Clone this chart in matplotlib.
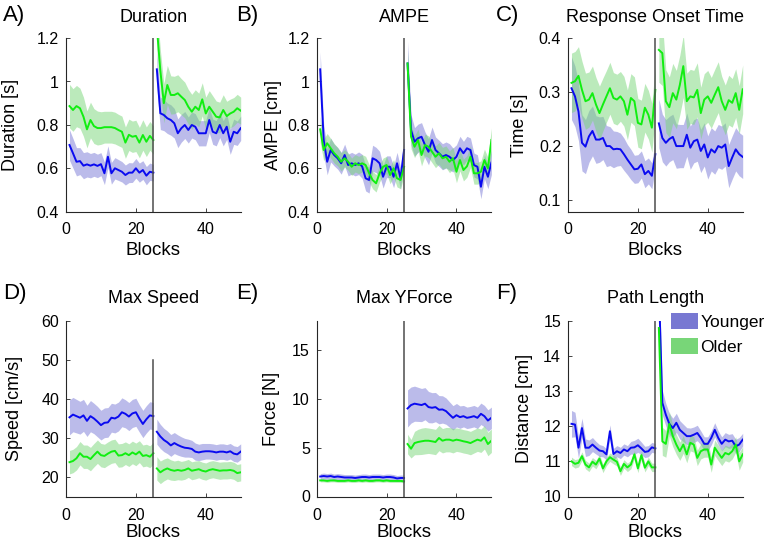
import matplotlib
matplotlib.use("Agg")
import matplotlib.pyplot as plt
from matplotlib.patches import Patch
from matplotlib.ticker import FuncFormatter

plt.rcParams['font.family'] = ['Liberation Sans', 'DejaVu Sans']

blocks = list(range(1, 51))

# A) Duration [s]
dur_young = [0.708, 0.670, 0.631, 0.634, 0.613, 0.619, 0.613, 0.619, 0.612, 0.620, 0.578, 0.654, 0.578, 0.601, 0.593,
             0.585, 0.570, 0.581, 0.581, 0.601, 0.581, 0.593, 0.567, 0.585, 0.581,
             1.056, 0.854, 0.846, 0.831, 0.823, 0.808, 0.762, 0.785, 0.800, 0.777, 0.800, 0.792, 0.762, 0.762, 0.762,
             0.823, 0.769, 0.762, 0.800, 0.762, 0.792, 0.723, 0.769, 0.762, 0.785]
dur_old = [0.887, 0.869, 0.887, 0.877, 0.838, 0.780, 0.823, 0.795, 0.786, 0.786, 0.790, 0.790, 0.790, 0.786, 0.777,
           0.769, 0.719, 0.755, 0.746, 0.750, 0.719, 0.754, 0.723, 0.750, 0.731,
           1.250, 1.050, 0.900, 0.984, 0.938, 0.938, 0.946, 0.930, 0.915, 0.884, 0.861, 0.884, 0.869, 0.918, 0.853,
           0.884, 0.861, 0.838, 0.835, 0.869, 0.841, 0.853, 0.861, 0.877, 0.866]
dur_young_err = [0.070, 0.068, 0.065, 0.062, 0.060, 0.058, 0.056, 0.055, 0.054, 0.053, 0.052, 0.050, 0.050, 0.049, 0.048,
                 0.047, 0.046, 0.046, 0.045, 0.045, 0.044, 0.043, 0.042, 0.040, 0.038,
                 0.080, 0.075, 0.072, 0.070, 0.070, 0.068, 0.066, 0.064, 0.062, 0.060, 0.060, 0.060, 0.058, 0.058, 0.058,
                 0.058, 0.058, 0.058, 0.058, 0.058, 0.058, 0.058, 0.058, 0.056, 0.056]
dur_old_err = [0.100, 0.098, 0.095, 0.092, 0.090, 0.085, 0.082, 0.080, 0.078, 0.075, 0.073, 0.073, 0.073, 0.073, 0.072,
               0.072, 0.072, 0.072, 0.072, 0.072, 0.070, 0.070, 0.068, 0.066, 0.065,
               0.100, 0.095, 0.090, 0.090, 0.088, 0.086, 0.085, 0.083, 0.082, 0.080, 0.080, 0.078, 0.077, 0.076, 0.075,
               0.074, 0.073, 0.072, 0.070, 0.070, 0.068, 0.066, 0.065, 0.064, 0.062]

# B) AMPE [cm]
ampe_young = [1.056, 0.731, 0.631, 0.685, 0.662, 0.647, 0.624, 0.662, 0.616, 0.624, 0.616, 0.624, 0.610, 0.555, 0.547,
              0.647, 0.639, 0.624, 0.562, 0.608, 0.608, 0.562, 0.624, 0.555, 0.685,
              1.083, 0.777, 0.723, 0.739, 0.746, 0.708, 0.677, 0.731, 0.685, 0.670, 0.654, 0.662, 0.654, 0.639, 0.654,
              0.693, 0.670, 0.693, 0.685, 0.616, 0.608, 0.516, 0.608, 0.562, 0.627]
ampe_old = [0.780, 0.685, 0.716, 0.693, 0.670, 0.654, 0.631, 0.647, 0.631, 0.608, 0.624, 0.616, 0.624, 0.616, 0.578,
            0.547, 0.532, 0.578, 0.608, 0.616, 0.570, 0.601, 0.555, 0.547, 0.608,
            1.083, 0.746, 0.700, 0.731, 0.662, 0.708, 0.700, 0.677, 0.654, 0.670, 0.647, 0.654, 0.631, 0.647, 0.585,
            0.639, 0.593, 0.610, 0.654, 0.578, 0.578, 0.585, 0.639, 0.601, 0.731]
ampe_young_err = [0.080, 0.070, 0.060, 0.055, 0.050, 0.050, 0.050, 0.050, 0.050, 0.050, 0.050, 0.052, 0.055, 0.058, 0.060,
                  0.060, 0.058, 0.055, 0.052, 0.050, 0.050, 0.050, 0.050, 0.050, 0.050,
                  0.100, 0.070, 0.065, 0.065, 0.065, 0.060, 0.060, 0.060, 0.060, 0.060, 0.060, 0.060, 0.060, 0.055, 0.055,
                  0.055, 0.055, 0.055, 0.055, 0.055, 0.055, 0.055, 0.055, 0.055, 0.055]
ampe_old_err = [0.060, 0.050, 0.045, 0.045, 0.045, 0.042, 0.042, 0.040, 0.040, 0.040, 0.040, 0.040, 0.040, 0.040, 0.040,
                0.040, 0.040, 0.040, 0.040, 0.040, 0.040, 0.040, 0.040, 0.040, 0.040,
                0.060, 0.055, 0.050, 0.050, 0.050, 0.050, 0.050, 0.050, 0.050, 0.050, 0.050, 0.050, 0.050, 0.050, 0.050,
                0.050, 0.050, 0.050, 0.050, 0.050, 0.050, 0.050, 0.050, 0.050, 0.055]

# C) Response onset time [s]
rot_young = [0.307, 0.292, 0.264, 0.206, 0.199, 0.218, 0.228, 0.212, 0.212, 0.215, 0.200, 0.200, 0.194, 0.195, 0.194,
             0.185, 0.175, 0.166, 0.157, 0.158, 0.166, 0.148, 0.154, 0.145, 0.185,
             0.242, 0.215, 0.206, 0.213, 0.217, 0.200, 0.200, 0.200, 0.221, 0.197, 0.209, 0.212, 0.191, 0.203, 0.179,
             0.194, 0.188, 0.200, 0.197, 0.203, 0.163, 0.179, 0.194, 0.185, 0.180]
rot_old = [0.317, 0.320, 0.330, 0.304, 0.283, 0.286, 0.298, 0.277, 0.261, 0.277, 0.292, 0.307, 0.289, 0.286, 0.292,
           0.283, 0.258, 0.289, 0.283, 0.243, 0.240, 0.271, 0.258, 0.234, 0.304,
           0.378, 0.372, 0.283, 0.272, 0.298, 0.286, 0.313, 0.348, 0.283, 0.292, 0.290, 0.304, 0.261, 0.286, 0.292,
           0.280, 0.295, 0.309, 0.283, 0.267, 0.285, 0.280, 0.298, 0.267, 0.305]
rot_young_err = [0.058, 0.056, 0.054, 0.052, 0.050, 0.048, 0.046, 0.044, 0.042, 0.040, 0.038, 0.036, 0.034, 0.032, 0.030,
                 0.030, 0.028, 0.028, 0.026, 0.026, 0.025, 0.025, 0.024, 0.024, 0.025,
                 0.045, 0.044, 0.043, 0.042, 0.042, 0.041, 0.040, 0.040, 0.040, 0.040, 0.040, 0.040, 0.040, 0.040, 0.040,
                 0.040, 0.040, 0.040, 0.040, 0.040, 0.040, 0.040, 0.040, 0.040, 0.040]
rot_old_err = [0.055, 0.055, 0.054, 0.053, 0.052, 0.051, 0.050, 0.050, 0.050, 0.049, 0.048, 0.048, 0.047, 0.047, 0.046,
               0.046, 0.046, 0.045, 0.045, 0.045, 0.045, 0.045, 0.045, 0.045, 0.045,
               0.060, 0.060, 0.058, 0.056, 0.055, 0.054, 0.055, 0.058, 0.052, 0.050, 0.050, 0.050, 0.048, 0.048, 0.048,
               0.047, 0.047, 0.047, 0.046, 0.046, 0.046, 0.045, 0.045, 0.045, 0.045]

# D) Max speed [cm/s]
spd_young = [35.3, 36.0, 35.6, 35.2, 35.8, 34.4, 35.6, 35.0, 34.2, 33.3, 33.9, 34.0, 35.2, 35.0, 35.5,
             36.6, 36.2, 35.5, 36.3, 36.6, 35.0, 33.6, 34.8, 35.8, 35.6,
             31.6, 30.4, 29.5, 28.9, 28.1, 28.7, 28.2, 27.8, 27.5, 27.4, 27.2, 26.5, 26.3, 26.5, 26.6,
             26.6, 26.5, 26.3, 26.5, 26.5, 26.3, 26.6, 26.0, 25.8, 26.5]
spd_old = [23.8, 24.1, 24.8, 26.1, 25.2, 25.2, 24.6, 25.6, 26.5, 25.6, 25.4, 26.0, 26.5, 26.7, 25.5,
           25.6, 26.1, 25.6, 26.3, 25.8, 26.5, 25.4, 25.6, 25.2, 26.1,
           22.2, 21.2, 21.8, 22.2, 21.8, 21.6, 21.8, 21.6, 21.8, 22.2, 21.6, 21.8, 22.0, 21.6, 21.4,
           21.8, 22.0, 21.8, 21.6, 21.7, 21.7, 21.8, 21.6, 21.0, 21.2]
spd_young_err = [4.5, 4.4, 4.3, 4.2, 4.1, 4.0, 4.0, 3.9, 3.9, 3.8, 3.8, 3.8, 3.7, 3.7, 3.7,
                 3.7, 3.6, 3.6, 3.6, 3.6, 3.5, 3.5, 3.5, 3.5, 3.5,
                 3.2, 3.1, 3.0, 2.9, 2.8, 2.7, 2.6, 2.5, 2.4, 2.3, 2.2, 2.2, 2.1, 2.1, 2.0,
                 2.0, 2.0, 2.0, 2.0, 2.0, 2.0, 2.0, 2.0, 2.0, 2.0]
spd_old_err = [3.0, 3.0, 3.0, 3.0, 3.0, 3.0, 3.0, 3.0, 3.0, 3.0, 3.0, 3.0, 3.0, 3.0, 3.0,
               3.0, 2.9, 2.9, 2.9, 2.9, 2.8, 2.8, 2.8, 2.8, 2.8,
               3.0, 2.9, 2.8, 2.7, 2.6, 2.5, 2.5, 2.4, 2.4, 2.3, 2.3, 2.3, 2.2, 2.2, 2.2,
               2.2, 2.2, 2.2, 2.2, 2.2, 2.2, 2.2, 2.2, 2.2, 2.2]

# E) Max Y force [N]
frc_young = [2.05, 2.10, 2.05, 2.10, 2.00, 2.05, 2.00, 1.95, 1.95, 1.95, 1.90, 1.95, 2.00, 2.00, 1.95,
             2.00, 2.00, 2.00, 1.95, 2.00, 2.00, 1.95, 1.85, 1.90, 1.90,
             9.03, 9.38, 9.52, 9.45, 9.38, 9.52, 9.17, 9.10, 9.17, 8.90, 8.93, 8.76, 8.41, 8.07, 8.34,
             8.14, 8.24, 8.07, 8.14, 8.24, 8.07, 8.48, 8.24, 7.79, 8.07]
frc_old = [1.65, 1.65, 1.60, 1.65, 1.65, 1.60, 1.60, 1.60, 1.65, 1.60, 1.60, 1.65, 1.60, 1.65, 1.60,
           1.60, 1.65, 1.65, 1.60, 1.65, 1.60, 1.60, 1.60, 1.60, 1.55,
           5.38, 4.90, 5.48, 5.59, 5.66, 5.72, 5.72, 5.66, 5.59, 6.00, 5.72, 5.83, 5.83, 5.72, 5.83,
           5.76, 5.66, 5.59, 5.48, 5.66, 5.83, 5.72, 6.07, 5.38, 5.72]
frc_young_err = [0.30, 0.30, 0.30, 0.30, 0.30, 0.30, 0.30, 0.30, 0.30, 0.30, 0.30, 0.30, 0.30, 0.30, 0.30,
                 0.30, 0.30, 0.30, 0.30, 0.30, 0.30, 0.30, 0.30, 0.30, 0.30,
                 1.90, 1.85, 1.80, 1.75, 1.70, 1.65, 1.60, 1.55, 1.50, 1.45, 1.40, 1.35, 1.30, 1.25, 1.20,
                 1.15, 1.10, 1.10, 1.10, 1.10, 1.10, 1.10, 1.10, 1.10, 1.10]
frc_old_err = [0.15, 0.15, 0.15, 0.15, 0.15, 0.15, 0.15, 0.15, 0.15, 0.15, 0.15, 0.15, 0.15, 0.15, 0.15,
               0.15, 0.15, 0.15, 0.15, 0.15, 0.15, 0.15, 0.15, 0.15, 0.15,
               1.00, 0.95, 1.20, 1.30, 1.35, 1.35, 1.30, 1.30, 1.30, 1.30, 1.25, 1.25, 1.25, 1.25, 1.20,
               1.20, 1.20, 1.20, 1.20, 1.20, 1.20, 1.20, 1.20, 1.20, 1.20]

# F) Path length [cm]
path_young = [12.07, 12.05, 11.39, 11.95, 11.39, 11.39, 11.48, 11.39, 11.31, 11.29, 11.20, 11.86, 11.21, 11.29, 11.24,
              11.34, 11.29, 11.39, 11.40, 11.46, 11.37, 11.27, 11.29, 11.40, 11.37,
              16.00, 12.67, 12.33, 12.07, 11.95, 12.10, 11.90, 11.81, 11.72, 11.72, 11.76, 11.81, 11.67, 11.50, 11.50,
              11.67, 11.90, 11.67, 11.50, 11.62, 11.57, 11.59, 11.43, 11.48, 11.62]
path_old = [11.00, 10.93, 10.96, 11.15, 10.91, 10.83, 10.99, 10.91, 11.08, 10.80, 11.00, 11.12, 11.05, 10.99, 10.72,
            10.93, 10.83, 10.91, 11.20, 10.80, 11.18, 10.82, 11.00, 10.83, 10.83,
            14.80, 11.57, 11.50, 12.07, 11.72, 11.48, 11.29, 11.48, 11.20, 11.53, 11.48, 11.10, 11.29, 11.34, 11.34,
            10.91, 11.39, 11.24, 11.10, 11.24, 11.20, 11.29, 11.48, 11.00, 11.20]
path_young_err = [0.38, 0.35, 0.30, 0.28, 0.25, 0.22, 0.20, 0.18, 0.17, 0.16, 0.16, 0.18, 0.16, 0.16, 0.16,
                  0.16, 0.16, 0.18, 0.20, 0.20, 0.18, 0.16, 0.16, 0.14, 0.14,
                  0.50, 0.35, 0.32, 0.30, 0.28, 0.27, 0.26, 0.25, 0.24, 0.23, 0.22, 0.22, 0.20, 0.20, 0.20,
                  0.20, 0.20, 0.20, 0.20, 0.20, 0.20, 0.20, 0.20, 0.20, 0.18]
path_old_err = [0.12, 0.12, 0.12, 0.12, 0.12, 0.12, 0.12, 0.12, 0.12, 0.12, 0.12, 0.12, 0.12, 0.12, 0.12,
                0.12, 0.12, 0.12, 0.12, 0.12, 0.12, 0.12, 0.12, 0.12, 0.12,
                0.50, 0.40, 0.38, 0.35, 0.30, 0.28, 0.26, 0.25, 0.24, 0.23, 0.22, 0.22, 0.22, 0.22, 0.22,
                0.22, 0.22, 0.22, 0.22, 0.22, 0.22, 0.22, 0.22, 0.25, 0.22]

panels = [
    ("A)", "Duration", "Duration [s]", dur_young, dur_young_err, dur_old, dur_old_err,
     (0.4, 1.2), [0.4, 0.6, 0.8, 1.0, 1.2], (0.4, 1.2)),
    ("B)", "AMPE", "AMPE [cm]", ampe_young, ampe_young_err, ampe_old, ampe_old_err,
     (0.4, 1.2), [0.4, 0.6, 0.8, 1.0, 1.2], (0.4, 1.2)),
    ("C)", "Response Onset Time", "Time [s]", rot_young, rot_young_err, rot_old, rot_old_err,
     (0.078, 0.4), [0.1, 0.2, 0.3, 0.4], (0.078, 0.4)),
    ("D)", "Max Speed", "Speed [cm/s]", spd_young, spd_young_err, spd_old, spd_old_err,
     (15, 60), [20, 30, 40, 50, 60], (15, 50)),
    ("E)", "Max YForce", "Force [N]", frc_young, frc_young_err, frc_old, frc_old_err,
     (0, 18), [0, 5, 10, 15], (0, 18)),
    ("F)", "Path Length", "Distance [cm]", path_young, path_young_err, path_old, path_old_err,
     (10, 15), [10, 11, 12, 13, 14, 15], (10, 15)),
]

W, H = 767, 547
col_left = [66, 316.7, 568]
row_top = [38, 321]
row_bottom = [212, 496.5]
ax_w = 174.7
letter_x = [3, 236, 496]
ylabel_off = [-0.27, -0.20, -0.229, -0.246, -0.212, -0.20]

young_line = '#0a0af0'
old_line = '#11ee11'
young_fill = (0.47, 0.47, 0.84)
old_fill = (0.47, 0.84, 0.47)

fig = plt.figure(figsize=(W / 100, H / 100), dpi=100)

for i, (letter, title, ylab, yv, ye, ov, oe, ylim, yticks, vl) in enumerate(panels):
    r, c = divmod(i, 3)
    top, bot = row_top[r], row_bottom[r]
    ax = fig.add_axes([col_left[c] / W, 1 - bot / H, ax_w / W, (bot - top) / H])

    # shaded bands first, then the mean lines, each half drawn on its own
    for seg in (slice(0, 25), slice(25, 50)):
        x = blocks[seg]
        for vals, errs, fc in ((yv, ye, young_fill), (ov, oe, old_fill)):
            v, e = vals[seg], errs[seg]
            ax.fill_between(x, [a - b for a, b in zip(v, e)], [a + b for a, b in zip(v, e)],
                            color=fc, alpha=0.5, lw=0)
    for seg in (slice(0, 25), slice(25, 50)):
        x = blocks[seg]
        ax.plot(x, yv[seg], color=young_line, lw=1.4)
        ax.plot(x, ov[seg], color=old_line, lw=1.4)

    ax.plot([25, 25], vl, color='0.3', lw=1.1)

    ax.set_xlim(0, 50)
    ax.set_ylim(*ylim)
    ax.set_xticks([0, 20, 40])
    ax.set_yticks(yticks)
    ax.yaxis.set_major_formatter(FuncFormatter(lambda v, p: '%g' % round(v, 3)))
    for s in ('top', 'right'):
        ax.spines[s].set_visible(False)
    for s in ('left', 'bottom'):
        ax.spines[s].set_color('0.15')
        ax.spines[s].set_linewidth(0.8)
    ax.tick_params(direction='in', length=3, width=0.6, color='0.15', labelsize=11.5)
    ax.tick_params(axis='x', pad=7 if r == 0 else 8.5)
    ax.tick_params(axis='y', pad=5)

    ax.set_title(title, fontsize=13, pad=11.5 if r == 0 else 13)
    ax.set_xlabel("Blocks", fontsize=13.5)
    ax.xaxis.set_label_coords(0.5, -0.172 if r == 0 else -0.157)
    ax.set_ylabel(ylab, fontsize=13)
    ax.yaxis.set_label_coords(ylabel_off[i], 0.5)

    ly = 21 if r == 0 else 299
    fig.text(letter_x[c] / W, 1 - ly / H, letter, fontsize=16, va='baseline', ha='left')

    if letter == "F)":
        handles = [Patch(facecolor='#7878d2', edgecolor='none', label='Younger'),
                   Patch(facecolor='#78d678', edgecolor='none', label='Older')]
        ax.legend(handles=handles, loc='upper left', bbox_to_anchor=(0.59, 1.045), frameon=False,
                  fontsize=12.5, borderpad=0, borderaxespad=0, handlelength=1.55, handleheight=1.0,
                  handletextpad=0.15, labelspacing=0.47)

fig.savefig("out.png", dpi=100)
